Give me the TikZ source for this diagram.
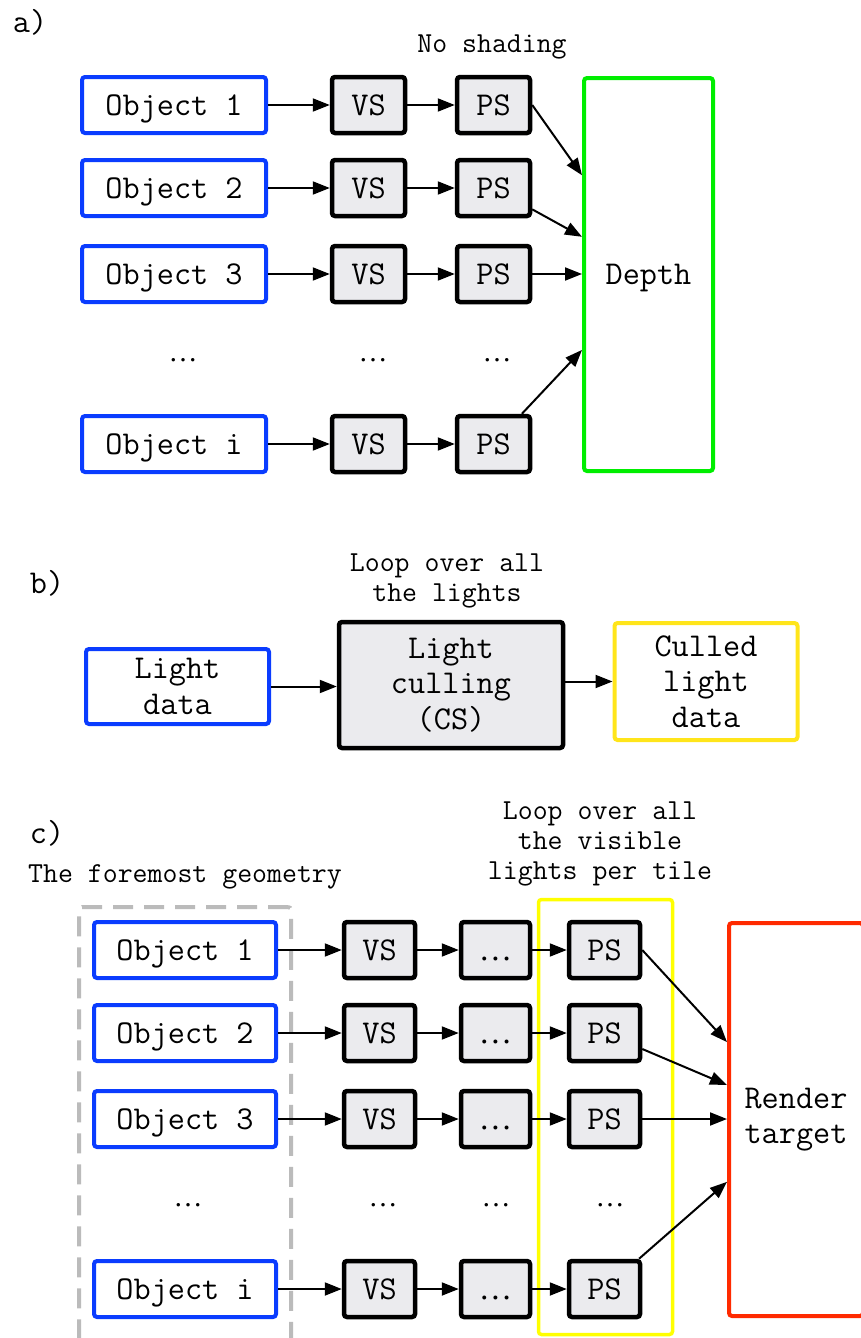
\documentclass[tikz,border=0pt]{standalone}
\usepackage{fontspec}
\newfontfamily\dotsfont{Liberation Serif}
\usetikzlibrary{arrows.meta,calc}

\definecolor{objblue}{HTML}{0A3CFF}
\definecolor{depthgreen}{HTML}{00EE00}
\definecolor{tilegold}{HTML}{FFE51A}
\definecolor{tileyellow}{HTML}{FFFF00}
\definecolor{rtred}{HTML}{FF2A00}
\definecolor{shaderfill}{HTML}{EBEBEE}
\definecolor{geomgrey}{HTML}{BBBBBB}

\begin{document}
\begin{tikzpicture}[x=1pt,y=-1pt,
  txt/.style={font=\ttfamily\fontsize{33.3}{35.5}\selectfont, align=center, inner sep=0pt},
  lbl/.style={font=\ttfamily\fontsize{29}{30}\selectfont, align=center, inner sep=0pt},
  oneline/.style={text height=20pt, text depth=0pt},
  obj/.style={txt, oneline, draw=objblue, line width=4pt, rounded corners=3pt,
    minimum width=184pt, minimum height=56pt},
  shader/.style={txt, oneline, draw=black, fill=shaderfill, line width=4.5pt, rounded corners=3pt,
    minimum width=73pt, minimum height=56pt},
  target/.style={txt, line width=4pt, rounded corners=3pt},
  dotsym/.style={font=\dotsfont\fontsize{29}{35}\selectfont, inner sep=0pt},
  flow/.style={line width=2pt, -{Triangle[length=17pt,width=13pt]}},
]
\useasboundingbox (0,0) rectangle (860,1338);

% ---------------- a) depth pre-pass ----------------
\node[txt] (la) at (30,22) {a)};
\node[lbl] (noshade) at (492,47) {No shading};

\node[obj] (ao1) at (174,105) {Object 1};
\node[obj] (ao2) at (174,188) {Object 2};
\node[obj] (ao3) at (174,274) {Object 3};
\node[obj] (aoi) at (174,444) {Object i};

\node[shader] (av1) at (368.5,105) {VS};
\node[shader] (av2) at (368.5,188) {VS};
\node[shader] (av3) at (368.5,274) {VS};
\node[shader] (avi) at (368.5,444) {VS};

\node[shader] (ap1) at (493.5,105) {PS};
\node[shader] (ap2) at (493.5,188) {PS};
\node[shader] (ap3) at (493.5,274) {PS};
\node[shader] (api) at (493.5,444) {PS};

\node[dotsym] (ad1) at (183,360) {…};
\node[dotsym] (ad2) at (373,360) {…};
\node[dotsym] (ad3) at (497,360) {…};

\node[target, oneline, draw=depthgreen, minimum width=129pt, minimum height=393pt] (depth) at (648.5,274.5) {Depth};

\foreach \r in {1,2,3,i} {
  \draw[flow] (ao\r) -- (av\r);
  \draw[flow] (av\r) -- (ap\r);
}
\coordinate (dA) at ($(depth.north west)!0.25!(depth.south west)$);
\coordinate (dB) at ($(depth.north west)!0.405!(depth.south west)$);
\coordinate (dI) at ($(depth.north west)!0.69!(depth.south west)$);
\draw[flow] (ap1.east) -- (dA);
\draw[flow] (ap2) -- (dB);
\draw[flow] (ap3) -- (depth.west |- ap3);
\draw[flow] (api) -- (dI);

% ---------------- b) light culling ----------------
\node[txt] (lb) at (47,583) {b)};
\node[lbl] (loopall) at (447,581) {Loop over all\\the lights};

\node[target, draw=objblue, minimum width=183pt, minimum height=75pt] (ld) at (177.5,686.5) {Light\\data};
\node[target, draw=black, fill=shaderfill, line width=4.5pt, minimum width=224pt, minimum height=126pt] (lc) at (451,685) {Light\\culling\\(CS)};
\node[target, draw=tilegold, minimum width=183pt, minimum height=117pt] (cl) at (706,681.5) {Culled\\light\\data};

\draw[flow] (ld.east) -- (ld.east -| lc.west);
\draw[flow] (lc.east |- cl.west) -- (cl.west);

% ---------------- c) shading pass ----------------
\node[txt] (lcc) at (47,833) {c)};
\node[lbl] (foremost) at (185,877) {The foremost geometry};
\node[lbl] (looptile) at (600,844) {Loop over all\\the visible\\lights per tile};

\node[draw=geomgrey, line width=4pt, dash pattern=on 20pt off 11pt, rounded corners=3pt,
  minimum width=212pt, minimum height=443pt, inner sep=0pt] (geom) at (185,1128.5) {};
\node[draw=tileyellow, line width=3.5pt, rounded corners=3pt,
  minimum width=134pt, minimum height=435pt, inner sep=0pt] (tile) at (605.5,1117) {};
\node[target, draw=rtred, minimum width=134pt, minimum height=393pt] (rt) at (796,1119.5) {Render\\target};

\node[obj, minimum width=182pt] (co1) at (185,950) {Object 1};
\node[obj, minimum width=182pt] (co2) at (185,1033) {Object 2};
\node[obj, minimum width=182pt] (co3) at (185,1119) {Object 3};
\node[obj, minimum width=182pt] (coi) at (185,1289) {Object i};

\foreach \r/\y in {1/950,2/1033,3/1119,i/1289} {
  \node[shader, minimum width=71pt] (cv\r) at (379.5,\y) {VS};
  \node[shader, minimum width=69pt] (cm\r) at (495.5,\y) {\dotsfont …};
  \node[shader, minimum width=71pt] (cp\r) at (604.5,\y) {PS};
}

\node[dotsym] (cd1) at (188,1205) {…};
\node[dotsym] (cd2) at (383,1205) {…};
\node[dotsym] (cd3) at (496,1205) {…};
\node[dotsym] (cd4) at (610,1205) {…};

\foreach \r in {1,2,3,i} {
  \draw[flow] (co\r) -- (cv\r);
  \draw[flow] (cv\r) -- (cm\r);
  \draw[flow] (cm\r) -- (cp\r);
}
\coordinate (rA) at ($(rt.north west)!0.305!(rt.south west)$);
\coordinate (rB) at ($(rt.north west)!0.413!(rt.south west)$);
\coordinate (rI) at ($(rt.north west)!0.657!(rt.south west)$);
\draw[flow] (cp1.east) -- (rA);
\draw[flow] (cp2) -- (rB);
\draw[flow] (cp3) -- (rt.west |- cp3);
\draw[flow] (cpi) -- (rI);
\end{tikzpicture}
\end{document}
